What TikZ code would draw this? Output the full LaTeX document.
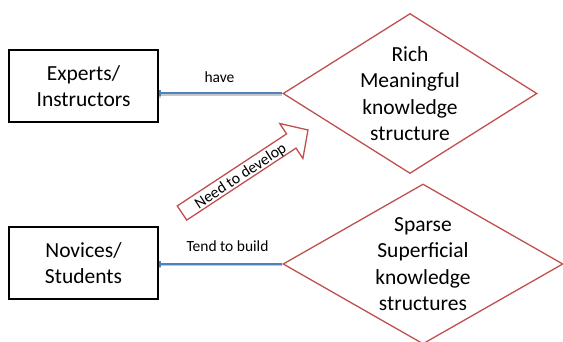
\documentclass[tikz,border=0pt]{standalone}
\usepackage{fontspec}
\setmainfont{Carlito}
\usetikzlibrary{shapes.geometric, arrows.meta}
\definecolor{rimred}{HTML}{C0504D}
\definecolor{linkblue}{HTML}{4F81BD}

\begin{document}
\begin{tikzpicture}[x=1pt, y=-1pt,
  actor/.style={draw=black, line width=1.4pt, minimum width=149pt,
    minimum height=72pt, inner sep=0pt, align=center,
    font=\fontsize{21.5}{26.5}\selectfont},
  structure/.style={diamond, draw=rimred, line width=1.3pt, inner sep=0pt},
  bodytext/.style={align=center, inner sep=0pt,
    font=\fontsize{21.5}{26.5}\selectfont},
  link/.style={draw=linkblue, line width=2pt,
    preaction={draw=black!22, line width=2.2pt,
      transform canvas={yshift=-1.4pt}}},
  linklabel/.style={font=\fontsize{15.5}{18}\selectfont, inner sep=0pt},
  blockarrow/.style={draw=rimred, line width=1.3pt, line join=miter}]

\useasboundingbox (0,0) rectangle (563,342);

% people boxes
\node[actor] (experts) at (83.5,86) {Experts/\\Instructors};
\node[actor] (novices) at (83.5,263) {Novices/\\Students};

% knowledge structures
\node[structure, minimum width=254pt, minimum height=160pt] (rich) at (410,93.5) {};
\node[bodytext] (richtext) at (rich.center) {Rich\\Meaningful\\knowledge\\structure};
\node[structure, minimum width=280pt, minimum height=160pt] (sparse) at (423,264) {};
\node[bodytext] (sparsetext) at (sparse.center) {Sparse\\Superficial\\knowledge\\structures};

% connectors
\draw[link, {Square[length=2pt,width=6pt]}-] (rich.west -| experts.east) -- (rich.west);
\draw[link, {Square[length=2pt,width=6pt]}-] (sparse.west -| novices.east) -- (sparse.west);
\node[linklabel, anchor=base] (havelbl) at (219.5,83) {have};
\node[linklabel, anchor=base] (buildlbl) at (227.5,252) {Tend to build};

% block arrow towards the rich structure
\draw[blockarrow] (177.3,205.9) -- (286.6,133.9) -- (279.7,123.5) -- (308,130)
  -- (302.9,158.5) -- (296.0,148.1) -- (186.7,220.1) -- cycle;
\node[inner sep=0pt, rotate=33.4, font=\fontsize{15.8}{18}\selectfont] (develop) at (240.8,176.4) {Need to develop};
\end{tikzpicture}
\end{document}
